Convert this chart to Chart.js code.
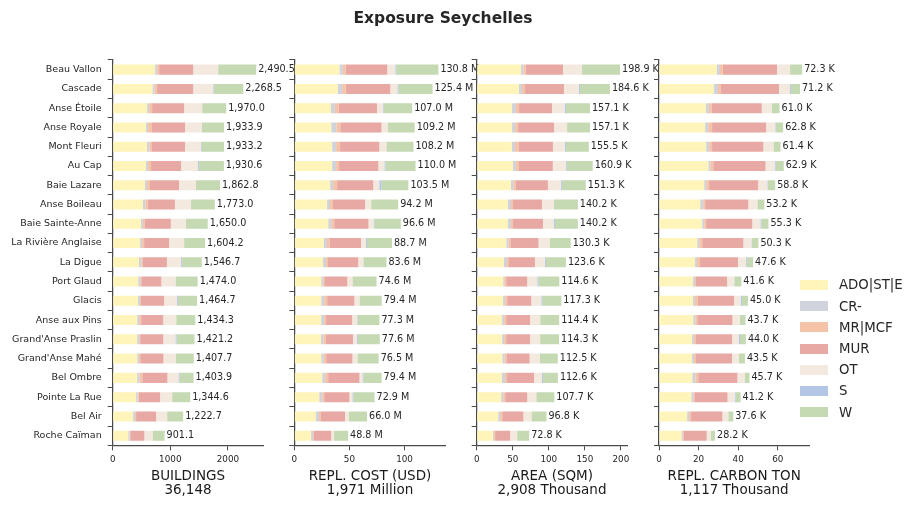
<!DOCTYPE html>
<html>
<head>
<meta charset="utf-8">
<title>Exposure Seychelles</title>
<script src="https://cdn.jsdelivr.net/npm/chart.js@4.4.0/dist/chart.umd.min.js"></script>
<style>
    body { margin: 0; background: #fff; font-family: 'DejaVu Sans', sans-serif; }
    #contenedor { position: relative; width: 920px; height: 510px; overflow: hidden; }
    #contenedor canvas { position: absolute; left: 0; top: 0; }
    #titulo { position: absolute; left: 0; top: 8.7px; width: 886px; text-align: center;
              font-weight: bold; font-size: 15.5px; line-height: 18px; color: #262626; }
    #leyenda { position: absolute; left: 800px; top: 274.4px; }
    #leyenda .fila { display: flex; align-items: center; height: 21.2px; }
    #leyenda .caja { width: 28px; height: 10px; margin-right: 11px; }
    #leyenda .texto { font-size: 13.3px; color: #262626; white-space: nowrap; }
</style>
</head>
<body>
<div id="contenedor">
    <canvas id="grafico1" width="920" height="510"></canvas>
    <canvas id="grafico2" width="920" height="510"></canvas>
    <canvas id="grafico3" width="920" height="510"></canvas>
    <canvas id="grafico4" width="920" height="510"></canvas>
    <div id="titulo">Exposure Seychelles</div>
    <div id="leyenda"></div>
</div>
<script>
//DATOS.
const distritos = ['Beau Vallon', 'Cascade', 'Anse Étoile', 'Anse Royale', 'Mont Fleuri', 'Au Cap',
    'Baie Lazare', 'Anse Boileau', 'Baie Sainte-Anne', 'La Rivière Anglaise', 'La Digue', 'Port Glaud',
    'Glacis', 'Anse aux Pins', "Grand'Anse Praslin", "Grand'Anse Mahé", 'Bel Ombre', 'Pointe La Rue',
    'Bel Air', 'Roche Caïman'];

const series = ['ADO|ST|E', 'CR-', 'MR|MCF', 'MUR', 'OT', 'S', 'W'];
const colores = ['#fff5bb', '#d0d3db', '#f5c4a8', '#e8a8a3', '#f3e9df', '#b3c6e6', '#c5d9b3'];

//Una fila por serie (mismo orden que "series").
const edificios = [
    [736, 690, 597, 579, 596, 579, 561, 526, 490, 475, 456, 443, 440, 424, 425, 426, 425, 406, 354, 269],
    [35, 35, 35, 35, 41, 35, 35, 40, 35, 35, 40, 35, 35, 35, 35, 29, 41, 29, 35, 23],
    [35, 46, 52, 69, 46, 52, 52, 46, 35, 35, 29, 17, 17, 35, 17, 23, 47, 17, 17, 12],
    [591, 627, 556, 573, 573, 521, 503, 468, 450, 434, 416, 350, 400, 383, 402, 403, 437, 371, 348, 246],
    [434, 348, 313, 295, 278, 295, 295, 277, 260, 261, 242, 245, 226, 226, 210, 210, 192, 209, 191, 140],
    [0, 12, 0, 0, 12, 17, 0, 0, 0, 0, 17, 0, 17, 0, 17, 0, 17, 0, 0, 0],
    [660, 510, 417, 382, 388, 431, 417, 416, 380, 364, 346, 385, 330, 331, 315, 316, 245, 313, 278, 211]
];
const costo = [
    [41.0, 39.5, 33.3, 33.5, 34.3, 34.3, 32.5, 29.7, 30.8, 26.9, 26.1, 24.4, 24.4, 24.3, 24.2, 24.4, 25.3, 22.6, 19.7, 15.2],
    [3.0, 3.9, 3.6, 4.6, 3.6, 3.6, 2.7, 2.7, 2.7, 2.7, 2.7, 1.8, 2.7, 2.7, 2.1, 2.4, 2.7, 2.7, 2.7, 1.8],
    [2.7, 3.3, 3.6, 3.6, 3.6, 2.7, 3.6, 2.7, 2.7, 2.7, 1.8, 0.9, 2.7, 1.8, 2.4, 2.1, 2.7, 1.8, 1.8, 0.9],
    [37.6, 40.4, 34.5, 37.4, 35.6, 35.6, 32.8, 29.1, 31.1, 28.2, 27.4, 21.0, 24.7, 23.7, 24.5, 23.8, 28.4, 22.9, 21.8, 15.5],
    [7.3, 6.4, 5.5, 5.5, 6.4, 5.5, 5.5, 5.5, 4.6, 4.5, 4.6, 4.6, 4.6, 4.6, 3.6, 4.6, 2.7, 2.7, 3.6, 2.7],
    [0.9, 0.9, 0.6, 0, 0, 0.9, 1.8, 0, 0.6, 0.9, 0, 0, 0, 0.6, 0.9, 0, 0.9, 0.9, 0, 0],
    [38.2, 31.0, 25.8, 24.6, 24.6, 27.4, 24.6, 24.5, 24.1, 22.7, 21.0, 21.9, 20.2, 19.5, 19.9, 19.2, 16.5, 19.2, 16.4, 12.7]
];
const area = [
    [61.5, 58.6, 49.0, 49.0, 48.9, 50.3, 47.5, 43.4, 43.4, 41.0, 37.8, 36.7, 36.6, 35.2, 35.2, 35.5, 35.1, 33.9, 29.8, 22.7],
    [3.2, 4.2, 5.5, 4.2, 4.2, 4.1, 3.2, 4.2, 4.2, 2.8, 4.2, 1.4, 2.8, 2.8, 2.8, 2.8, 4.2, 2.8, 2.8, 1.4],
    [3.2, 4.2, 4.2, 4.2, 5.5, 4.1, 3.7, 2.8, 2.8, 2.8, 2.8, 2.8, 2.8, 2.8, 2.8, 2.8, 2.8, 2.8, 2.8, 1.4],
    [51.8, 54.0, 45.7, 49.9, 47.1, 47.0, 44.3, 40.1, 41.5, 39.1, 36.0, 29.2, 33.4, 33.3, 33.3, 32.2, 37.4, 30.6, 29.3, 20.9],
    [26.4, 20.8, 18.0, 18.0, 16.6, 18.0, 18.0, 16.6, 15.2, 15.4, 13.8, 13.9, 13.9, 13.9, 13.8, 14.0, 11.1, 12.5, 11.2, 9.7],
    [0, 1.4, 1.4, 0, 1.4, 1.4, 1.4, 0, 1.4, 0, 1.4, 1.4, 1.4, 0, 0, 0, 1.4, 0, 0, 0],
    [52.7, 41.5, 33.3, 31.9, 31.8, 36.0, 33.2, 33.2, 31.8, 29.3, 27.7, 29.2, 26.4, 26.4, 26.4, 25.2, 20.6, 25.1, 20.9, 16.7]
];
const carbono = [
    [29.3, 27.8, 23.7, 23.3, 23.8, 24.9, 22.8, 20.8, 21.8, 19.3, 18.2, 17.2, 17.2, 17.3, 16.7, 16.7, 16.8, 16.3, 14.2, 11.3],
    [1.5, 2.0, 1.5, 1.5, 1.5, 1.0, 1.0, 1.5, 1.0, 1.0, 1.0, 1.0, 1.0, 1.0, 1.0, 1.0, 1.5, 1.0, 1.0, 0.5],
    [1.5, 1.5, 1.5, 2.0, 1.5, 1.5, 1.5, 1.0, 1.0, 1.5, 1.5, 0.5, 1.5, 1.0, 1.0, 1.0, 1.5, 0.5, 1.0, 0.5],
    [27.3, 29.3, 25.2, 27.3, 25.9, 26.4, 24.8, 21.8, 23.3, 20.8, 19.2, 15.7, 18.2, 17.8, 18.2, 18.2, 19.8, 16.8, 15.8, 11.8],
    [6.6, 5.6, 5.0, 4.6, 5.1, 4.6, 4.6, 4.6, 4.1, 4.1, 4.1, 3.6, 3.5, 3.6, 3.5, 3.5, 3.6, 3.6, 3.0, 2.1],
    [0, 0.5, 0, 0.3, 0, 0.5, 0.3, 0, 0.5, 0.3, 0.5, 0, 0.5, 0, 0.5, 0, 0, 0.5, 0, 0],
    [6.1, 4.5, 4.0, 3.7, 3.6, 4.1, 3.7, 3.5, 3.6, 3.2, 3.0, 3.6, 3.0, 3.0, 3.0, 3.0, 2.5, 2.5, 2.5, 2.1]
];

//Totales impresos al final de cada barra.
const totalEdificios = [2490.5, 2268.5, 1970.0, 1933.9, 1933.2, 1930.6, 1862.8, 1773.0, 1650.0, 1604.2,
    1546.7, 1474.0, 1464.7, 1434.3, 1421.2, 1407.7, 1403.9, 1344.6, 1222.7, 901.1];
const totalCosto = [130.8, 125.4, 107.0, 109.2, 108.2, 110.0, 103.5, 94.2, 96.6, 88.7,
    83.6, 74.6, 79.4, 77.3, 77.6, 76.5, 79.4, 72.9, 66.0, 48.8];
const totalArea = [198.9, 184.6, 157.1, 157.1, 155.5, 160.9, 151.3, 140.2, 140.2, 130.3,
    123.6, 114.6, 117.3, 114.4, 114.3, 112.5, 112.6, 107.7, 96.8, 72.8];
const totalCarbono = [72.3, 71.2, 61.0, 62.8, 61.4, 62.9, 58.8, 53.2, 55.3, 50.3,
    47.6, 41.6, 45.0, 43.7, 44.0, 43.5, 45.7, 41.2, 37.6, 28.2];

const ticksEdificios = [0, 1000, 2000];
const ticksCosto = [0, 50, 100];
const ticksArea = [0, 50, 100, 150, 200];
const ticksCarbono = [0, 20, 40, 60];

const tituloEdificios = ['BUILDINGS', '36,148'];
const tituloCosto = ['REPL. COST (USD)', '1,971 Million'];
const tituloArea = ['AREA (SQM)', '2,908 Thousand'];
const tituloCarbono = ['REPL. CARBON TON', '1,117 Thousand'];


const FUENTE = "'DejaVu Sans', sans-serif";
const GRIS = '#4a4a4a';
const TEXTO = '#262626';

//FORMATOS DE LAS ETIQUETAS.
const conMiles = v => v.toLocaleString('en-US', {minimumFractionDigits: 1, maximumFractionDigits: 1});
const enM = v => v.toFixed(1) + ' M';
const enK = v => v.toFixed(1) + ' K';


//PLUGIN PARA ESCRIBIR EL TOTAL AL FINAL DE CADA BARRA.
function crearEtiquetas(totales, formato) {
    return {
        id: 'etiquetas',
        afterDatasetsDraw(chart) {
            const {ctx, scales: {x, y}} = chart;
            ctx.save();
            ctx.font = '9.6px ' + FUENTE;
            ctx.fillStyle = TEXTO;
            ctx.textBaseline = 'middle';
            ctx.textAlign = 'left';
            chart.data.labels.forEach((_, i) => {
                let suma = 0;
                chart.data.datasets.forEach(d => { suma += d.data[i]; });
                ctx.fillText(formato(totales[i]), x.getPixelForValue(suma) + 2, y.getPixelForValue(i));
            });
            ctx.restore();
        }
    };
}


//FUNCIÓN PARA GENERAR CADA UNO DE LOS 4 PANELES.
function generarPanel(id, datos, totales, ticks, titulo, formato, izq, der, conNombres) {
    const anchoY = conNombres ? izq : 10;
    const maximo = Math.max(...totales) * 1.05;

    const datasets = series.map((nombre, s) => ({
        label: nombre,
        data: datos[s],
        backgroundColor: colores[s],
        borderWidth: 0,
        barPercentage: 0.52,
        categoryPercentage: 1
    }));

    const config = {
        type: 'bar',
        data: { labels: distritos, datasets: datasets },
        options: {
            indexAxis: 'y',
            responsive: false,
            animation: false,
            layout: { padding: { left: izq - anchoY, right: 920 - der, top: 60, bottom: 0 } },
            plugins: { legend: { display: false }, tooltip: { enabled: false } },
            scales: {
                x: {
                    stacked: true,
                    min: 0,
                    max: maximo,
                    afterFit: escala => { escala.height = 64.7; },
                    afterBuildTicks: escala => { escala.ticks = ticks.map(v => ({ value: v })); },
                    grid: { drawOnChartArea: false, drawTicks: true, tickLength: 5, color: GRIS, lineWidth: 1 },
                    border: { display: true, color: GRIS, width: 1.25 },
                    ticks: {
                        font: { family: FUENTE, size: 8.8 },
                        color: TEXTO,
                        padding: 4,
                        maxRotation: 0,
                        callback: v => String(v)
                    },
                    title: {
                        display: true,
                        text: titulo,
                        color: '#1a1a1a',
                        font: { family: FUENTE, size: 13.5, lineHeight: 1.04 },
                        padding: { top: 0, bottom: 12.3 }
                    }
                },
                y: {
                    stacked: true,
                    afterFit: escala => { escala.width = anchoY; },
                    grid: { drawOnChartArea: false, drawTicks: true, tickLength: 5, color: GRIS, lineWidth: 1 },
                    border: { display: true, color: GRIS, width: 1.25 },
                    ticks: { display: conNombres, font: { family: FUENTE, size: 9.5 }, color: TEXTO, padding: 6, autoSkip: false }
                }
            }
        },
        plugins: [crearEtiquetas(totales, formato)]
    };
    return new Chart(document.getElementById(id), config);
}


const grafico1 = generarPanel('grafico1', edificios, totalEdificios, ticksEdificios, tituloEdificios, conMiles, 112.7, 263.3, true);
const grafico2 = generarPanel('grafico2', costo, totalCosto, ticksCosto, tituloCosto, enM, 294.3, 445.7, false);
const grafico3 = generarPanel('grafico3', area, totalArea, ticksArea, tituloArea, enK, 476.7, 627.3, false);
const grafico4 = generarPanel('grafico4', carbono, totalCarbono, ticksCarbono, tituloCarbono, enK, 659, 809.3, false);


//LEYENDA EN HTML A PARTIR DE LOS ELEMENTOS QUE GENERA CHART.JS.
const items = grafico4.options.plugins.legend.labels.generateLabels(grafico4);
const leyenda = document.getElementById('leyenda');
items.forEach(item => {
    const fila = document.createElement('div');
    fila.className = 'fila';
    const caja = document.createElement('span');
    caja.className = 'caja';
    caja.style.background = item.fillStyle;
    const texto = document.createElement('span');
    texto.className = 'texto';
    texto.textContent = item.text;
    fila.appendChild(caja);
    fila.appendChild(texto);
    leyenda.appendChild(fila);
});
</script>
</body>
</html>
